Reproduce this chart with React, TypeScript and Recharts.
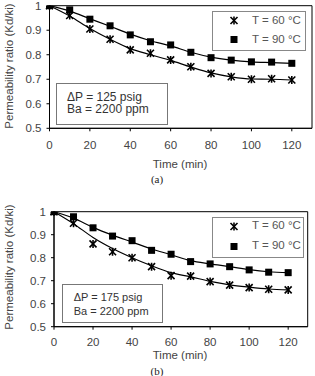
import React from 'react'
import { ComposedChart, Line, XAxis, YAxis, ReferenceArea } from 'recharts'

// sampling times (min)
const TIME = [0, 10, 20, 30, 40, 50, 60, 70, 80, 90, 100, 110, 120]

// (a) dP = 125 psig
const A_T60 = [1.0, 0.96, 0.905, 0.863, 0.82, 0.806, 0.779, 0.751, 0.724, 0.71, 0.7, 0.702, 0.697]
const A_T90 = [1.0, 0.983, 0.945, 0.918, 0.881, 0.853, 0.84, 0.81, 0.788, 0.778, 0.771, 0.77, 0.765]
const A_FIT60 = [1.0, 0.958, 0.907, 0.863, 0.825, 0.8, 0.777, 0.75, 0.726, 0.71, 0.701, 0.7, 0.697]
const A_FIT90 = [1.0, 0.978, 0.947, 0.916, 0.884, 0.857, 0.836, 0.81, 0.79, 0.778, 0.771, 0.768, 0.765]

// (b) dP = 175 psig
const B_T60 = [1.0, 0.95, 0.86, 0.826, 0.8, 0.761, 0.722, 0.72, 0.696, 0.681, 0.67, 0.663, 0.66]
const B_T90 = [1.0, 0.978, 0.93, 0.894, 0.874, 0.832, 0.815, 0.783, 0.773, 0.761, 0.747, 0.737, 0.735]
const B_FIT60 = [1.0, 0.948, 0.888, 0.84, 0.8, 0.765, 0.735, 0.717, 0.697, 0.682, 0.672, 0.664, 0.66]
const B_FIT90 = [1.0, 0.972, 0.932, 0.898, 0.868, 0.838, 0.813, 0.787, 0.773, 0.761, 0.748, 0.739, 0.735]

const X_TICKS = [0, 20, 40, 60, 80, 100, 120]
const Y_TICKS = [0.5, 0.6, 0.7, 0.8, 0.9, 1]

const SANS = '"Liberation Sans", Arial, sans-serif'
const SERIF = '"Liberation Serif", "Times New Roman", serif'

const Star = ({ cx, cy }: { cx: number; cy: number }) => (
  <g stroke="#000" strokeWidth={1.6} fill="none">
    <line x1={cx - 3.5} y1={cy - 3.5} x2={cx + 3.5} y2={cy + 3.5} />
    <line x1={cx - 3.5} y1={cy + 3.5} x2={cx + 3.5} y2={cy - 3.5} />
    <line x1={cx} y1={cy - 4} x2={cx} y2={cy + 4} />
  </g>
)

const Square = ({ cx, cy }: { cx: number; cy: number }) => (
  <rect x={cx - 3.5} y={cy - 3.5} width={7} height={7} fill="#000" />
)

const StarDot = (props: any) => {
  if (props.cx == null || props.cy == null) return null
  return <Star key={props.index} cx={props.cx} cy={props.cy} />
}

const SquareDot = (props: any) => {
  if (props.cx == null || props.cy == null) return null
  return <Square key={props.index} cx={props.cx} cy={props.cy} />
}

type PanelProps = {
  top: number
  height: number
  margin: { top: number; right: number; bottom: number; left: number }
  yAxisWidth: number
  t60: number[]
  t90: number[]
  fit60: number[]
  fit90: number[]
  tickOffset: number
  timeY: number
  captionY: number
  caption: string
  yLabelCenter: number
  legend: { left: number; top: number; width: number; height: number; row1: number; row2: number }
  note: { left: number; top: number; width: number; height: number; fontSize: number; textLeft: number; row1: number; gap: number; text: string }
}

// single-line text centred on a point
const label = (fontSize: number, family: string, color: string): React.CSSProperties => ({
  position: 'absolute',
  font: `${fontSize}px ${family}`,
  lineHeight: `${fontSize}px`,
  color,
  whiteSpace: 'nowrap',
})

function Panel(p: PanelProps) {
  const data = TIME.map((t, i) => ({ t, s60: p.t60[i], s90: p.t90[i], f60: p.fit60[i], f90: p.fit90[i] }))
  const tickStyle = { fill: '#444', fontSize: 11.5, fontFamily: SANS }

  return (
    <div style={{ position: 'absolute', left: 0, top: p.top, width: 315, height: p.height }}>
      <ComposedChart width={315} height={p.height} data={data} margin={p.margin}>
        <XAxis
          dataKey="t"
          type="number"
          domain={[0, 130]}
          ticks={X_TICKS}
          tick={tickStyle}
          tickSize={3}
          tickMargin={p.tickOffset}
          stroke="#000"
          height={30}
        />
        <YAxis
          type="number"
          domain={[0.5, 1]}
          ticks={Y_TICKS}
          tick={tickStyle}
          tickSize={3}
          tickMargin={5}
          stroke="#000"
          width={p.yAxisWidth}
          allowDataOverflow
        />
        <ReferenceArea x1={0} x2={130} y1={0.5} y2={1} fill="none" stroke="#000" strokeWidth={1} />
        <Line type="monotone" dataKey="f60" stroke="#000" strokeWidth={1.2} dot={false} activeDot={false} isAnimationActive={false} />
        <Line type="monotone" dataKey="f90" stroke="#000" strokeWidth={1.2} dot={false} activeDot={false} isAnimationActive={false} />
        <Line dataKey="s60" stroke="none" dot={<StarDot />} activeDot={false} isAnimationActive={false} />
        <Line dataKey="s90" stroke="none" dot={<SquareDot />} activeDot={false} isAnimationActive={false} />
      </ComposedChart>

      {/* y axis title */}
      <div
        style={{
          ...label(11.5, SANS, '#444'),
          left: 10,
          top: p.yLabelCenter,
          transform: 'translate(-50%, -50%) rotate(-90deg)',
        }}
      >
        Permeability ratio (Kd/ki)
      </div>

      {/* x axis title and caption */}
      <div style={{ ...label(11.5, SANS, '#444'), left: 180, top: p.timeY, transform: 'translate(-50%, -50%)' }}>
        Time (min)
      </div>
      <div style={{ ...label(11, SERIF, '#222'), left: 157, top: p.captionY, transform: 'translate(-50%, -50%)' }}>
        {p.caption}
      </div>

      {/* legend */}
      <div
        style={{
          position: 'absolute',
          left: p.legend.left,
          top: p.legend.top,
          width: p.legend.width,
          height: p.legend.height,
          boxSizing: 'border-box',
          border: '1px solid #888',
          background: '#fff',
        }}
      >
        <svg width={p.legend.width} height={p.legend.height} style={{ position: 'absolute', left: -1, top: -1 }}>
          <Star cx={22} cy={p.legend.row1} />
          <Square cx={22} cy={p.legend.row2} />
        </svg>
        <div style={{ ...label(11.5, SANS, '#555'), left: 39, top: p.legend.row1 - 1, transform: 'translateY(-50%)' }}>
          T = 60 °C
        </div>
        <div style={{ ...label(11.5, SANS, '#555'), left: 39, top: p.legend.row2 - 1, transform: 'translateY(-50%)' }}>
          T = 90 °C
        </div>
      </div>

      {/* test conditions */}
      <div
        style={{
          position: 'absolute',
          left: p.note.left,
          top: p.note.top,
          width: p.note.width,
          height: p.note.height,
          boxSizing: 'border-box',
          border: '1px solid #777',
          background: '#fff',
        }}
      >
        {p.note.text.split('\n').map((line, i) => (
          <div
            key={i}
            style={{
              ...label(p.note.fontSize, SANS, '#333'),
              left: p.note.textLeft,
              top: p.note.row1 + i * p.note.gap - 1,
              transform: 'translateY(-50%)',
            }}
          >
            {line}
          </div>
        ))}
      </div>
    </div>
  )
}

export default function App() {
  return (
    <div style={{ position: 'absolute', left: 0, top: 0, width: 315, height: 376, background: '#fff', overflow: 'hidden' }}>
      <Panel
        top={0}
        height={190}
        margin={{ top: 5.7, right: 3, bottom: 31.7, left: 0 }}
        yAxisWidth={49.5}
        t60={A_T60}
        t90={A_T90}
        fit60={A_FIT60}
        fit90={A_FIT90}
        tickOffset={10}
        timeY={165}
        captionY={179}
        caption="(a)"
        yLabelCenter={66}
        legend={{ left: 212, top: 11, width: 94, height: 40, row1: 9.5, row2: 28.5 }}
        note={{ left: 56, top: 83, width: 112, height: 42, fontSize: 12, textLeft: 10, row1: 13.5, gap: 12.5, text: 'ΔP = 125 psig\nBa = 2200 ppm' }}
      />
      <Panel
        top={190}
        height={186}
        margin={{ top: 21.7, right: 7.3, bottom: 19.3, left: 0 }}
        yAxisWidth={54}
        t60={B_T60}
        t90={B_T90}
        fit60={B_FIT60}
        fit90={B_FIT90}
        tickOffset={8}
        timeY={166}
        captionY={180.5}
        caption="(b)"
        yLabelCenter={77}
        legend={{ left: 212, top: 26.7, width: 92, height: 41.6, row1: 9.5, row2: 29.5 }}
        note={{ left: 61.7, top: 94, width: 101.6, height: 38.7, fontSize: 11, textLeft: 11, row1: 12.5, gap: 14, text: 'ΔP = 175 psig\nBa = 2200 ppm' }}
      />
    </div>
  )
}
